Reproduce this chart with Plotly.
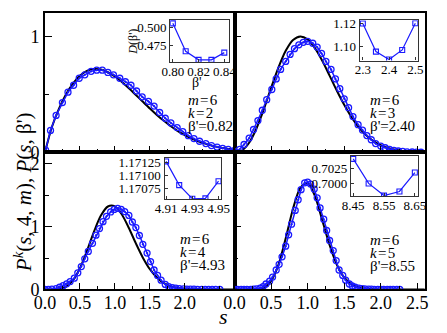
import plotly.graph_objects as go

# theory grid (black curves)
S_TH = [0.0, 0.1, 0.2, 0.3, 0.4, 0.5, 0.6, 0.7, 0.8, 0.9, 1.0, 1.1, 1.2, 1.3,
        1.4, 1.5, 1.6, 1.7, 1.8, 1.9, 2.0, 2.1, 2.2, 2.3, 2.4, 2.5, 2.6, 2.7]

TH_K2 = [0.0, 0.22, 0.376, 0.50, 0.595, 0.662, 0.703, 0.719, 0.715, 0.692, 0.655, 0.608,
         0.554, 0.496, 0.437, 0.379, 0.324, 0.273, 0.226, 0.185, 0.150, 0.12, 0.095, 0.074,
         0.057, 0.043, 0.033, 0.024]
TH_K3 = [0.0, 0.017, 0.084, 0.207, 0.371, 0.557, 0.732, 0.877, 0.970, 1.001, 0.975, 0.900,
         0.791, 0.663, 0.532, 0.411, 0.304, 0.216, 0.148, 0.098, 0.063, 0.039, 0.023, 0.013,
         0.007, 0.004, 0.002, 0.001]
TH_K4 = [0.0, 0.0, 0.005, 0.042, 0.143, 0.336, 0.612, 0.918, 1.177, 1.322, 1.324, 1.194,
         0.979, 0.734, 0.507, 0.323, 0.19, 0.10, 0.05, 0.024, 0.01, 0.004, 0.0015, 0.0,
         0.0, 0.0, 0.0, 0.0]
TH_K5 = [0.0, 0.0, 0.0, 0.002, 0.02, 0.135, 0.391, 0.815, 1.287, 1.62, 1.70, 1.486,
         1.104, 0.708, 0.392, 0.191, 0.081, 0.031, 0.010, 0.003, 0.0, 0.0, 0.0, 0.0,
         0.0, 0.0, 0.0, 0.0]

# simulation data (blue markers)
S_K2 = [0.01, 0.08, 0.16, 0.25, 0.33, 0.41, 0.49, 0.57, 0.66, 0.74, 0.82, 0.90, 0.98,
        1.07, 1.15, 1.23, 1.31, 1.39, 1.48, 1.56, 1.64, 1.72, 1.80, 1.89, 1.97, 2.05,
        2.13, 2.21, 2.30, 2.38, 2.46, 2.54, 2.62, 2.71]
P_K2 = [0.02, 0.19, 0.32, 0.43, 0.52, 0.58, 0.64, 0.67, 0.70, 0.71, 0.71, 0.69, 0.67,
        0.64, 0.61, 0.58, 0.53, 0.48, 0.44, 0.40, 0.345, 0.295, 0.255, 0.215, 0.18, 0.145,
        0.12, 0.097, 0.077, 0.06, 0.047, 0.036, 0.027, 0.019]

S_K3 = [0.01, 0.07, 0.13, 0.20, 0.26, 0.32, 0.38, 0.44, 0.51, 0.57, 0.63, 0.70, 0.76,
        0.82, 0.88, 0.94, 1.00, 1.07, 1.13, 1.19, 1.25, 1.32, 1.38, 1.44, 1.50, 1.56,
        1.62, 1.69, 1.75, 1.81, 1.87, 1.93, 2.00, 2.06, 2.12, 2.18, 2.24, 2.30, 2.36,
        2.43, 2.49, 2.55]
P_K3 = [0.005, 0.027, 0.069, 0.124, 0.198, 0.275, 0.364, 0.455, 0.543, 0.634, 0.716, 0.785,
        0.846, 0.895, 0.928, 0.95, 0.959, 0.942, 0.909, 0.854, 0.785, 0.716, 0.634, 0.55,
        0.463, 0.386, 0.31, 0.24, 0.193, 0.146, 0.11, 0.077, 0.055, 0.041, 0.027, 0.019,
        0.013, 0.009, 0.006, 0.004, 0.003, 0.002]

S_K4 = [0.0, 0.05, 0.10, 0.16, 0.21, 0.26, 0.31, 0.36, 0.42, 0.47, 0.52, 0.57, 0.62,
        0.68, 0.73, 0.78, 0.83, 0.88, 0.94, 0.99, 1.04, 1.09, 1.14, 1.20, 1.25, 1.30,
        1.35, 1.40, 1.46, 1.51, 1.56, 1.61, 1.66, 1.72, 1.77, 1.82, 1.87, 1.92, 1.98,
        2.03, 2.08, 2.13, 2.18, 2.24, 2.29, 2.34, 2.39, 2.44, 2.50]
P_K4 = [0.0, 0.0, 0.005, 0.015, 0.035, 0.06, 0.09, 0.125, 0.18, 0.265, 0.365, 0.489,
        0.606, 0.735, 0.865, 0.97, 1.08, 1.165, 1.235, 1.275, 1.293, 1.277, 1.241, 1.18,
        1.075, 0.987, 0.86, 0.72, 0.58, 0.445, 0.31, 0.224, 0.148, 0.08, 0.046, 0.03,
        0.02, 0.014, 0.01, 0.007, 0.005, 0.004, 0.003, 0.002, 0.002, 0.001, 0.001,
        0.001, 0.0]

S_K5 = [0.0, 0.04, 0.09, 0.13, 0.17, 0.22, 0.26, 0.30, 0.35, 0.39, 0.43, 0.48, 0.52,
        0.57, 0.61, 0.65, 0.70, 0.74, 0.78, 0.83, 0.87, 0.91, 0.96, 1.00, 1.04, 1.09,
        1.13, 1.17, 1.22, 1.26, 1.30, 1.35, 1.39, 1.43, 1.48, 1.52, 1.57, 1.61, 1.65,
        1.70, 1.74, 1.78, 1.83, 1.87, 1.91, 1.96, 2.00, 2.04, 2.09, 2.13, 2.17, 2.22, 2.26]
P_K5 = [0.0, 0.0, 0.0, 0.0, 0.001, 0.002, 0.004, 0.01, 0.02, 0.046, 0.087, 0.133, 0.198,
        0.31, 0.40, 0.52, 0.69, 0.87, 1.04, 1.26, 1.43, 1.59, 1.70, 1.71, 1.68, 1.60,
        1.46, 1.30, 1.12, 0.94, 0.78, 0.62, 0.46, 0.31, 0.224, 0.148, 0.087, 0.055, 0.035,
        0.022, 0.014, 0.009, 0.006, 0.004, 0.003, 0.002, 0.001, 0.001, 0.001, 0.001,
        0.0, 0.0, 0.0]

# insets: D(beta') vs beta'
B_K2 = [0.80, 0.81, 0.82, 0.83, 0.84]
D_K2 = [0.505, 0.4672, 0.4556, 0.4556, 0.4654]
B_K3 = [2.30, 2.35, 2.40, 2.45, 2.50]
D_K3 = [1.1203, 1.0951, 1.0880, 1.0966, 1.1206]
B_K4 = [4.91, 4.92, 4.93, 4.94, 4.95]
D_K4 = [1.171276, 1.17081, 1.170543, 1.17055, 1.170887]
B_K5 = [8.45, 8.50, 8.55, 8.60, 8.65]
D_K5 = [0.70406, 0.70006, 0.69808, 0.69875, 0.70183]

LABELS = [("6", "2", "0.82"), ("6", "3", "2.40"), ("6", "4", "4.93"), ("6", "5", "8.55")]

W, H = 447, 333
FONT = "Liberation Serif"
BLUE = "#1a1aff"
SP = "\u200a"


def fx(p):
    return p / W


def fy(p):
    return 1 - p / H


fig = go.Figure()

panels = [
    (S_K2, P_K2, TH_K2, "x", "y", "x5", "y5", B_K2, D_K2),
    (S_K3, P_K3, TH_K3, "x2", "y2", "x6", "y6", B_K3, D_K3),
    (S_K4, P_K4, TH_K4, "x3", "y3", "x7", "y7", B_K4, D_K4),
    (S_K5, P_K5, TH_K5, "x4", "y4", "x8", "y8", B_K5, D_K5),
]
for s, p, th, xa, ya, xi, yi, b, d in panels:
    fig.add_trace(go.Scatter(x=S_TH, y=th, mode="lines", xaxis=xa, yaxis=ya,
                             line=dict(color="black", width=2, shape="spline", smoothing=0.8)))
    fig.add_trace(go.Scatter(x=s, y=p, mode="lines+markers", xaxis=xa, yaxis=ya,
                             line=dict(color=BLUE, width=1.5),
                             marker=dict(symbol="circle-open-dot", size=6, color=BLUE,
                                         line=dict(width=1.3, color=BLUE))))
    fig.add_trace(go.Scatter(x=b, y=d, mode="lines+markers", xaxis=xi, yaxis=yi,
                             line=dict(color=BLUE, width=1.2),
                             marker=dict(symbol="square-open", size=5, color=BLUE,
                                         line=dict(width=1.1, color=BLUE))))

XL = [fx(35.5), fx(234)]
XR = [fx(234), fx(433)]
YT = [fy(155), fy(9.5)]
YB = [fy(298), fy(155)]


def main_x(dom, rng, anchor, labels, tvals):
    return dict(domain=dom, range=rng, anchor=anchor, showgrid=False, zeroline=False,
                showline=True, linecolor="black", linewidth=1.6, mirror=True,
                ticks="inside", ticklen=7, tickwidth=1.3, tickcolor="black",
                tickvals=tvals, ticktext=[f"{v:.1f}" for v in tvals], showticklabels=labels,
                ticklabelstandoff=-4,
                tickfont=dict(family=FONT, size=18, color="black"),
                minor=dict(ticks="inside", ticklen=4, tickwidth=1.3, dtick=0.25, tick0=0,
                           tickcolor="black"))


def main_y(dom, rng, anchor, labels, tvals):
    return dict(domain=dom, range=rng, anchor=anchor, showgrid=False, zeroline=False,
                showline=True, linecolor="black", linewidth=1.6, mirror=True,
                ticks="inside", ticklen=7, tickwidth=1.3, tickcolor="black",
                tickvals=tvals, ticktext=[str(v) for v in tvals], showticklabels=labels,
                tickfont=dict(family=FONT, size=18, color="black"),
                minor=dict(ticks="inside", ticklen=4, tickwidth=1.3, dtick=0.5, tick0=0,
                           tickcolor="black"))


def inset_axis(dom, rng, anchor, tvals, ttext, standoff=0):
    return dict(domain=dom, range=rng, anchor=anchor, showgrid=False, zeroline=False,
                showline=True, linecolor="#333333", linewidth=1.3, mirror=True,
                ticks="inside", ticklen=3, tickcolor="#333333",
                tickvals=tvals, ticktext=ttext, ticklabelstandoff=standoff,
                tickfont=dict(family=FONT, size=13, color="black"))


XT_L = [0, 0.5, 1.0, 1.5, 2.0]
XT_R = [0, 0.5, 1.0, 1.5, 2.0, 2.5]

fig.update_layout(
    width=W, height=H, margin=dict(l=0, r=0, t=0, b=0),
    paper_bgcolor="white", plot_bgcolor="white", showlegend=False,
    font=dict(family=FONT, color="black"),
    xaxis=main_x(XL, [0, 2.71], "y", False, XT_L),
    yaxis=main_y(YT, [0, 1.202], "x", True, [0, 1]),
    xaxis2=main_x(XR, [0, 2.6], "y2", False, XT_R),
    yaxis2=main_y(YT, [0, 1.202], "x2", False, [0, 1]),
    xaxis3=main_x(XL, [0, 2.71], "y3", True, XT_L),
    yaxis3=main_y(YB, [0, 2.183], "x3", True, [0, 1, 2]),
    xaxis4=main_x(XR, [0, 2.6], "y4", True, XT_R),
    yaxis4=main_y(YB, [0, 2.183], "x4", False, [0, 1, 2]),
    xaxis5=inset_axis([fx(166.7), fx(228)], [0.798, 0.8435], "y5",
                      [0.80, 0.82, 0.84], ["0.80", "0.82", "0.84"], -3),
    yaxis5=inset_axis([fy(60.7), fy(16.7)], [0.4525, 0.5095], "x5",
                      [0.475, 0.500], ["0.475", "0.500"]),
    xaxis6=inset_axis([fx(365), fx(426)], [2.288, 2.51], "y6",
                      [2.3, 2.4, 2.5], ["2.3", "2.4", "2.5"], -3),
    yaxis6=inset_axis([fy(59), fy(17)], [1.0871, 1.1232], "x6",
                      [1.10, 1.12], ["1.10", "1.12"]),
    xaxis7=inset_axis([fx(160.7), fx(220)], [4.9088, 4.952], "y7",
                      [4.91, 4.93, 4.95], ["4.91", "4.93", "4.95"], -3),
    yaxis7=inset_axis([fy(204), fy(161)], [1.17053, 1.171338], "x7",
                      [1.17075, 1.171, 1.17125], ["1.17075", "1.17100", "1.17125"]),
    xaxis8=inset_axis([fx(356), fx(426)], [8.443, 8.66], "y8",
                      [8.45, 8.55, 8.65], ["8.45", "8.55", "8.65"], -3),
    yaxis8=inset_axis([fy(200.7), fy(158.3)], [0.69797, 0.70459], "x8",
                      [0.7, 0.7025], ["0.7000", "0.7025"]),
)


def note(x, y, text, size, angle=0, xanchor="center"):
    fig.add_annotation(x=fx(x), y=fy(y), xref="paper", yref="paper", text=text,
                       showarrow=False, textangle=angle, xanchor=xanchor, yanchor="middle",
                       font=dict(family=FONT, size=size, color="black"))


# m, k, beta' labels in each panel
label_pos = [(182.7, 100), (373.3, 100), (174.3, 245), (373.3, 246)]
for (m, k, b), (x0, y0) in zip(LABELS, label_pos):
    lines = [f"<i>m</i>{SP}={SP}{m}", f"<i>k</i>{SP}={SP}{k}", f"β'={b}"]
    for i, t in enumerate(lines):
        note(x0, y0 + 13.5 * i, t, 15, xanchor="left")

# axis titles
note(13, 196, "<i>P</i><sup><i>k</i></sup>(<i>s</i>, 4, <i>m</i>), <i>P</i>(<i>s</i>, β')",
     21, angle=-90)
note(222, 326, "<i>s</i>", 22)
note(195, 82, "β'", 14)
note(128, 39, "<i>D</i>(β')", 12, angle=-90)

# page body has a default margin; drop it so the figure sits at the window corner
fig.write_html("out.html", config={"displayModeBar": False},
               post_script="document.body.style.margin='0px';")
